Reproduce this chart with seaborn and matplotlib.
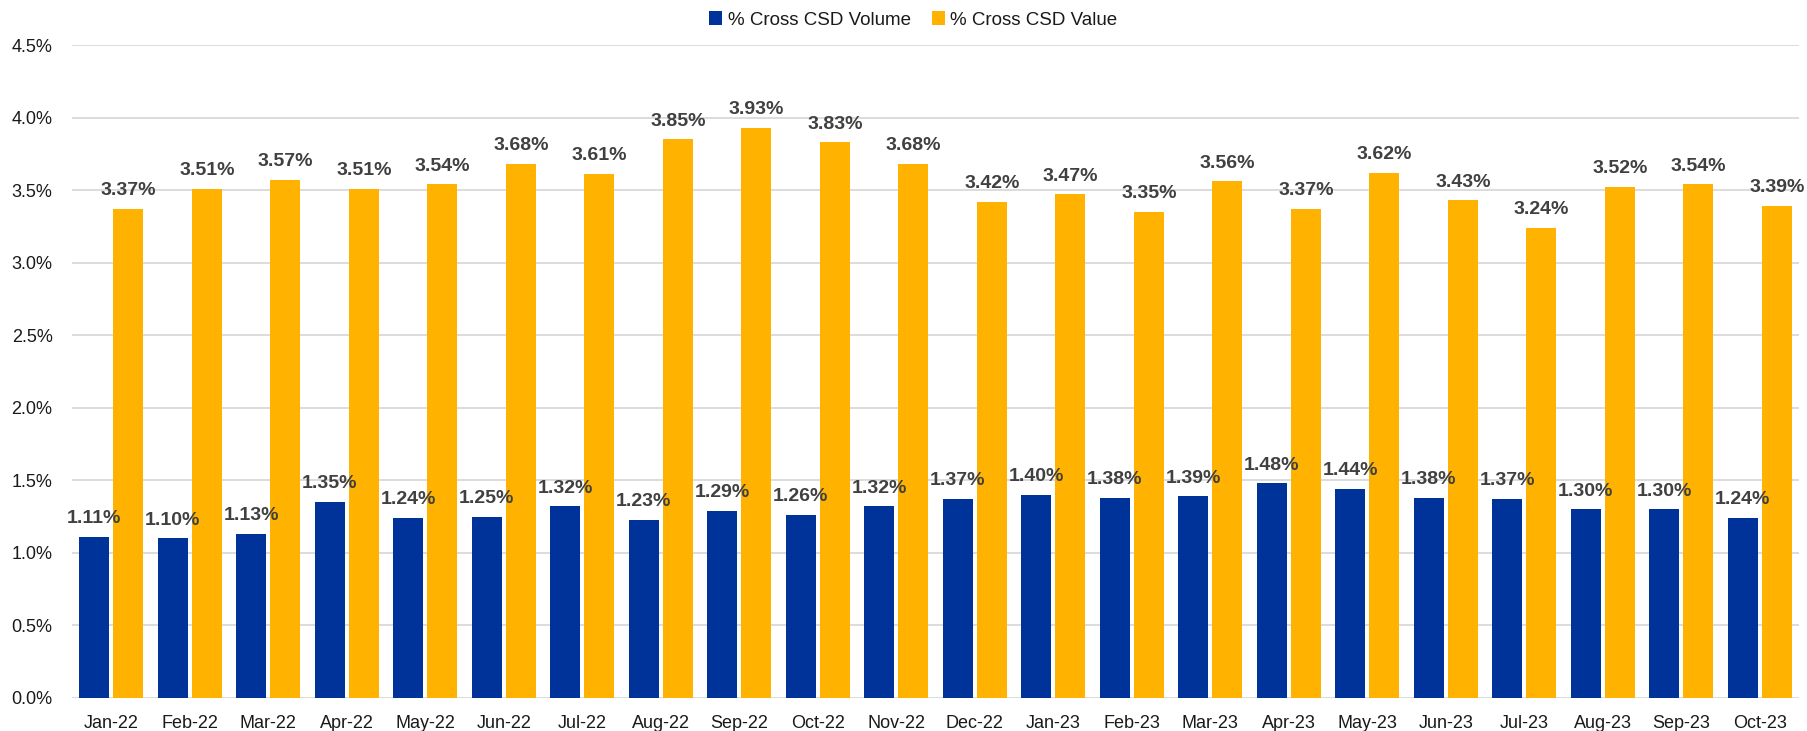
import matplotlib
matplotlib.use("Agg")
import matplotlib.pyplot as plt
import seaborn as sns
import pandas as pd
from matplotlib.ticker import FuncFormatter, MultipleLocator

months = ["Jan-22", "Feb-22", "Mar-22", "Apr-22", "May-22", "Jun-22", "Jul-22", "Aug-22",
          "Sep-22", "Oct-22", "Nov-22", "Dec-22", "Jan-23", "Feb-23", "Mar-23", "Apr-23",
          "May-23", "Jun-23", "Jul-23", "Aug-23", "Sep-23", "Oct-23"]
volume = [1.11, 1.10, 1.13, 1.35, 1.24, 1.25, 1.32, 1.23, 1.29, 1.26, 1.32, 1.37,
          1.40, 1.38, 1.39, 1.48, 1.44, 1.38, 1.37, 1.30, 1.30, 1.24]
value = [3.37, 3.51, 3.57, 3.51, 3.54, 3.68, 3.61, 3.85, 3.93, 3.83, 3.68, 3.42,
         3.47, 3.35, 3.56, 3.37, 3.62, 3.43, 3.24, 3.52, 3.54, 3.39]
series = ["% Cross CSD Volume", "% Cross CSD Value"]
colors = ["#003399", "#FFB300"]

df = pd.concat([
    pd.DataFrame({"Month": months, "Pct": volume, "Series": series[0]}),
    pd.DataFrame({"Month": months, "Pct": value, "Series": series[1]}),
])

sns.set_theme(style="white")
plt.rcParams["font.family"] = ["Liberation Sans", "DejaVu Sans"]

fig = plt.figure(figsize=(18.07, 7.31), dpi=100)
ax = fig.add_axes([72 / 1807, 33 / 731, 1727 / 1807, 653 / 731])

sns.barplot(data=df, x="Month", y="Pct", hue="Series", order=months, hue_order=series,
            palette=colors, width=0.87, gap=0.13, saturation=1, ax=ax,
            edgecolor="none", linewidth=0, legend=True)

ax.set_ylim(0, 4.5)
ax.set_xlim(-0.5, len(months) - 0.5)
ax.yaxis.set_major_locator(MultipleLocator(0.5))
ax.yaxis.set_major_formatter(FuncFormatter(lambda v, p: f"{v:.1f}%"))
ax.grid(axis="y", color="#D9D9D9", linewidth=1.3)
ax.set_axisbelow(True)
for s in ax.spines.values():
    s.set_visible(False)
ax.set_xlabel("")
ax.set_ylabel("")
ax.tick_params(axis="x", length=0, pad=12, labelsize=13, labelcolor="#1a1a1a")
ax.tick_params(axis="y", length=0, pad=14, labelsize=13, labelcolor="#1a1a1a")

for cont in ax.containers:
    ax.bar_label(cont, fmt="%.2f%%", padding=7, fontsize=14, fontweight="bold",
                 color="#404040", clip_on=False)

handles, labels = ax.get_legend_handles_labels()
ax.get_legend().remove()
leg = fig.legend(handles, labels, loc="center", bbox_to_anchor=(0.5055, 1 - 20 / 731), ncol=2,
                 frameon=False, fontsize=13.5, handlelength=0.7, handleheight=0.7,
                 handletextpad=0.3, columnspacing=1.1)
for t in leg.get_texts():
    t.set_color("#1a1a1a")

fig.savefig("out.png", dpi=100)
